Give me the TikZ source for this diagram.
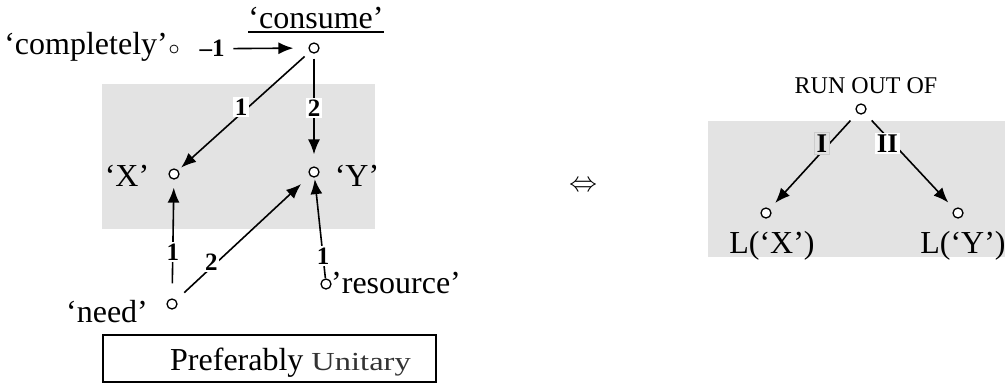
\documentclass[tikz,border=0pt]{standalone}
\usepackage{fontspec}
\usepackage{graphicx}
\setmainfont{Liberation Serif}
\newfontfamily\unitaryfont[FakeStretch=1.25]{Liberation Serif}
\usetikzlibrary{arrows.meta}
\definecolor{panel}{RGB}{227,227,227}
\tikzset{
  dot/.style={circle, draw, fill=white, line width=1.3pt, minimum size=10pt, inner sep=0pt},
  smalldot/.style={circle, draw, fill=white, line width=0.8pt, minimum size=8pt, inner sep=0pt},
  word/.style={font=\fontsize{32}{38}\selectfont, inner sep=0pt},
  smallword/.style={font=\fontsize{24}{28}\selectfont, inner sep=0pt},
  arr/.style={-{Latex[length=15pt,width=12pt]}, line width=1.6pt},
  lbl/.style={font=\fontsize{25}{28}\selectfont\bfseries, fill=white, inner sep=1.5pt},
  rlbl/.style={font=\fontsize{27}{30}\selectfont\bfseries, inner sep=2pt},
}
\begin{document}
\begin{tikzpicture}[x=1pt,y=-1pt]
\useasboundingbox (0,0) rectangle (1005,384);

% shaded panels
\fill[panel] (102,84) rectangle (375,229);
\fill[panel] (708,121) rectangle (1005,257);

% ---- semantic network ----
\node[dot] (cons) at (314,48) {};
\node[smalldot] (compl) at (174,49) {};
\node[dot] (X) at (174,174) {};
\node[dot] (Y) at (314,172) {};
\node[dot] (need) at (172,304) {};
\node[dot] (res) at (326,284) {};

\node[word, anchor=base] (consT) at (316,28) {‘consume’};
\draw[line width=1.5pt] ([yshift=-4pt]consT.base west) -- ([yshift=-4pt]consT.base east);
\node[word, anchor=base east] (complT) at (168,54) {‘completely’};
\node[word, anchor=base] (XT) at (127,186) {‘X’};
\node[word, anchor=base] (YT) at (357,186) {‘Y’};
\node[word, anchor=base] (needT) at (107,322) {‘need’};
\node[word, anchor=base west] (resT) at (331,293) {’resource’};

\draw[arr, shorten <=55pt, shorten >=15pt] (compl) -- node[pos=0.26, lbl, fill=none] {–1} (cons);
\draw[arr, shorten <=7pt, shorten >=4pt] (cons) -- node[pos=0.5, lbl, xshift=-3pt, yshift=4pt] {1} (X);
\draw[arr, shorten <=5pt, shorten >=12pt] (cons) -- node[pos=0.48, lbl] {2} (Y);
\draw[arr, shorten <=15pt, shorten >=8pt] (need) -- node[pos=0.39, lbl] {1} (X);
\draw[arr, shorten <=11pt, shorten >=12pt] (need) -- node[pos=0.285, lbl, xshift=-3pt, yshift=3pt] {2} (Y);
\draw[arr, shorten >=1.5pt] (res) -- node[pos=0.22, lbl] {1} (Y);

% lexical note
\draw[line width=1.5pt] (103,335) rectangle (436,382);
\node[word, anchor=base west] (pref) at (170,370) {Preferably {\unitaryfont\fontsize{26}{30}\selectfont\color{black!80}Unitary}};

% equivalence sign
\node (eq) at (583,186) {\scalebox{2.8}{$\Leftrightarrow$}};

% ---- deep-syntactic tree ----
\node[dot] (run) at (861,109) {};
\node[dot] (LX) at (766,213) {};
\node[dot] (LY) at (958,213) {};
\node[smallword, anchor=base] (runT) at (866,93) {RUN OUT OF};
\node[word, anchor=base] (LXT) at (772,253) {L(‘X’)};
\node[word, anchor=base] (LYT) at (963,253) {L(‘Y’)};

\draw[arr, shorten <=10pt, shorten >=8pt] (run) -- node[pos=0.357, rlbl, fill=panel, draw=black!20, line width=1pt, xshift=-4pt, yshift=4pt] {I} (LX);
\draw[arr, shorten <=10pt, shorten >=8.6pt] (run) -- node[pos=0.286, rlbl, fill=white, xshift=-3pt, yshift=-3pt] {II} (LY);
\end{tikzpicture}
\end{document}
